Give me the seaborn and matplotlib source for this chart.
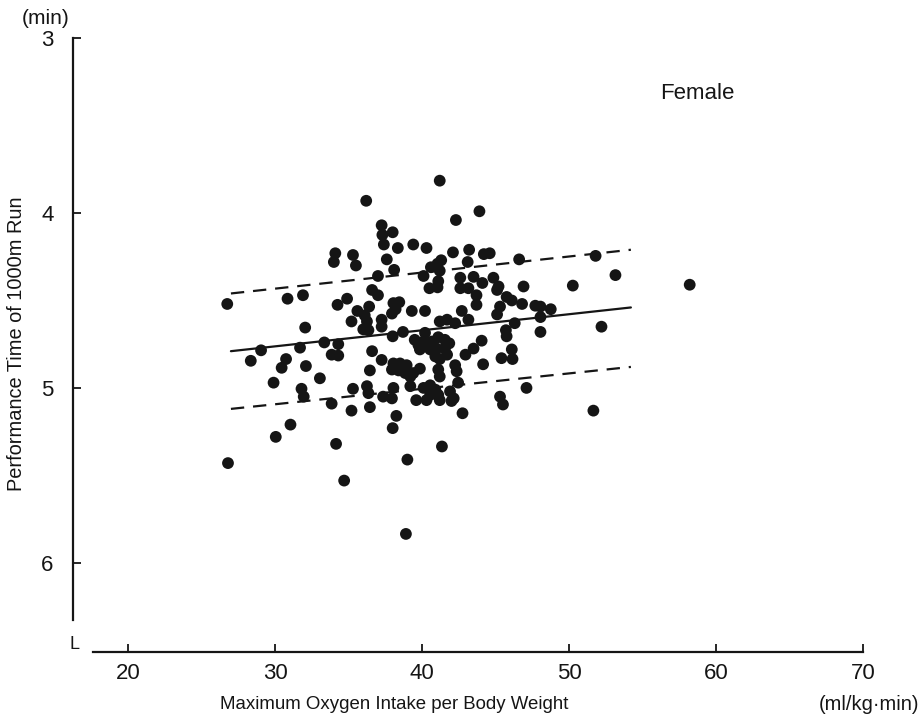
import matplotlib
matplotlib.use("Agg")
import matplotlib.pyplot as plt
import seaborn as sns
import pandas as pd

# maximum oxygen intake per body weight (ml/kg.min)
vo2max = [
    36.2, 41.2, 43.9, 42.3, 34.1, 34.0, 35.3, 35.5, 37.25, 37.3,
    38.0, 37.4, 38.35, 39.4, 40.3, 37.6, 38.1, 42.1, 43.2, 44.2,
    44.6, 46.6, 43.1, 41.3, 41.05, 40.6, 41.2, 40.1, 37.0, 42.6,
    43.5, 44.85, 41.1, 41.05, 40.5, 42.6, 43.15, 44.1, 45.2, 51.8,
    53.15, 46.9, 50.25, 58.2, 36.6, 37.0, 36.4, 38.05, 38.45, 38.2,
    37.95, 39.3, 40.2, 43.7, 43.7, 45.1, 45.75, 46.1, 45.3, 45.1,
    42.7, 36.1, 36.25, 36.0, 36.35, 37.25, 37.25, 41.2, 41.7, 42.25,
    43.15, 46.3, 38.0, 38.7, 40.2, 39.5, 39.75, 40.1, 40.65, 41.1,
    41.55, 41.85, 39.85, 40.55, 41.0, 41.55, 40.9, 41.2, 41.7, 44.05,
    43.5, 42.95, 45.7, 45.75, 46.1, 46.15, 45.4, 36.6, 37.25, 36.45,
    38.05, 38.5, 38.95, 39.85, 37.95, 38.4, 38.85, 39.2, 39.4, 41.1,
    41.2, 42.25, 42.35, 44.15, 36.25, 36.35, 38.05, 39.2, 40.1, 40.55,
    40.9, 41.1, 40.55, 40.3, 41.2, 39.6, 42.45, 41.9, 42.15, 37.35,
    37.95, 45.3, 45.5, 36.45, 46.8, 47.7, 48.05, 48.75, 48.05, 48.05,
    52.2, 47.1, 51.65, 26.75, 30.85, 31.9, 34.25, 34.9, 35.6, 35.2,
    32.05, 29.05, 28.35, 30.75, 30.45, 31.7, 33.35, 34.3, 33.85, 34.3,
    32.1, 33.05, 29.9, 31.8, 31.95, 35.3, 33.85, 35.2, 26.8, 30.05,
    31.05, 38.25, 38.0, 34.15, 39.0, 34.7, 41.35, 42.75, 38.9, 42.0,
]
# performance time of 1000 m run (min)
run_time = [
    3.93, 3.815, 3.99, 4.04, 4.23, 4.28, 4.24, 4.30, 4.07, 4.125,
    4.11, 4.18, 4.20, 4.18, 4.20, 4.265, 4.325, 4.225, 4.21, 4.235,
    4.23, 4.265, 4.28, 4.27, 4.29, 4.31, 4.33, 4.36, 4.36, 4.37,
    4.365, 4.37, 4.39, 4.425, 4.43, 4.43, 4.43, 4.40, 4.42, 4.245,
    4.355, 4.42, 4.415, 4.41, 4.44, 4.47, 4.535, 4.515, 4.51, 4.55,
    4.575, 4.56, 4.56, 4.47, 4.525, 4.44, 4.48, 4.50, 4.535, 4.58,
    4.56, 4.585, 4.62, 4.665, 4.67, 4.61, 4.65, 4.62, 4.61, 4.63,
    4.61, 4.63, 4.705, 4.68, 4.685, 4.725, 4.755, 4.735, 4.735, 4.71,
    4.725, 4.745, 4.78, 4.78, 4.775, 4.775, 4.82, 4.835, 4.81, 4.73,
    4.775, 4.81, 4.67, 4.705, 4.78, 4.835, 4.83, 4.79, 4.84, 4.90,
    4.86, 4.86, 4.87, 4.89, 4.895, 4.90, 4.915, 4.935, 4.915, 4.895,
    4.935, 4.87, 4.905, 4.865, 4.99, 5.03, 5.00, 4.99, 5.00, 4.985,
    5.01, 5.04, 5.04, 5.07, 5.07, 5.07, 4.97, 5.02, 5.06, 5.05,
    5.06, 5.05, 5.095, 5.11, 4.52, 4.53, 4.535, 4.55, 4.595, 4.68,
    4.65, 5.00, 5.13, 4.52, 4.49, 4.47, 4.525, 4.49, 4.56, 4.62,
    4.655, 4.785, 4.845, 4.835, 4.885, 4.77, 4.74, 4.75, 4.81, 4.815,
    4.875, 4.945, 4.97, 5.005, 5.05, 5.005, 5.09, 5.13, 5.43, 5.28,
    5.21, 5.16, 5.23, 5.32, 5.41, 5.53, 5.335, 5.145, 5.835, 5.075,
]

# regression line and +-1 SD band, drawn between these x values
fit_x = [27.0, 54.2]
fit_mean = [4.79, 4.54]
fit_upper = [4.46, 4.21]
fit_lower = [5.12, 4.88]

x_ticks = [20, 30, 40, 50, 60, 70]
y_ticks = [3, 4, 5, 6]

df = pd.DataFrame({"vo2": vo2max, "time": run_time})
lines = pd.DataFrame({"x": fit_x, "mean": fit_mean, "upper": fit_upper, "lower": fit_lower})

sns.set_style("ticks")
plt.rcParams["font.family"] = ["Liberation Sans", "DejaVu Sans"]
ink = "#151515"

fig = plt.figure(figsize=(9.24, 7.22), dpi=100)
ax = fig.add_axes([0.079, 0.097, 0.86, 0.855])

sns.scatterplot(data=df, x="vo2", y="time", ax=ax, color=ink,
                s=72, edgecolor="none", zorder=3)
sns.lineplot(data=lines, x="x", y="mean", ax=ax, color=ink, lw=1.6)
sns.lineplot(data=lines, x="x", y="upper", ax=ax, color=ink, lw=1.6,
             linestyle=(0, (6, 4)))
sns.lineplot(data=lines, x="x", y="lower", ax=ax, color=ink, lw=1.6,
             linestyle=(0, (6, 4)))

ax.set_xlim(16.26, 70.3)
ax.set_ylim(6.51, 2.98)
ax.set_xticks(x_ticks)
ax.set_yticks(y_ticks)
ax.tick_params(direction="in", length=6, width=1.3, labelsize=16, colors=ink)
ax.tick_params(axis="x", pad=8)
ax.tick_params(axis="y", pad=14)

sns.despine(ax=ax)
ax.spines["left"].set_bounds(3, 6.33)
ax.spines["bottom"].set_bounds(17.6, 70)
for sp in ("left", "bottom"):
    ax.spines[sp].set_linewidth(1.6)
    ax.spines[sp].set_color(ink)

ax.set_xlabel("Maximum Oxygen Intake per Body Weight", fontsize=13.4, color=ink)
ax.set_ylabel("Performance Time of 1000m Run", fontsize=14.4, color=ink)
ax.xaxis.set_label_coords(0.404, -0.071)
ax.yaxis.set_label_coords(-0.059, 0.5)

fig.text(0.049, 0.975, "(min)", fontsize=15, ha="center", va="center", color=ink)
fig.text(0.94, 0.024, "(ml/kg·min)", fontsize=14.5, ha="center", va="center", color=ink)
fig.text(0.081, 0.107, "L", fontsize=13, ha="center", va="center", color=ink)
fig.text(0.755, 0.871, "Female", fontsize=16, ha="center", va="center", color=ink)

fig.savefig("out.png", dpi=100, facecolor="white")
